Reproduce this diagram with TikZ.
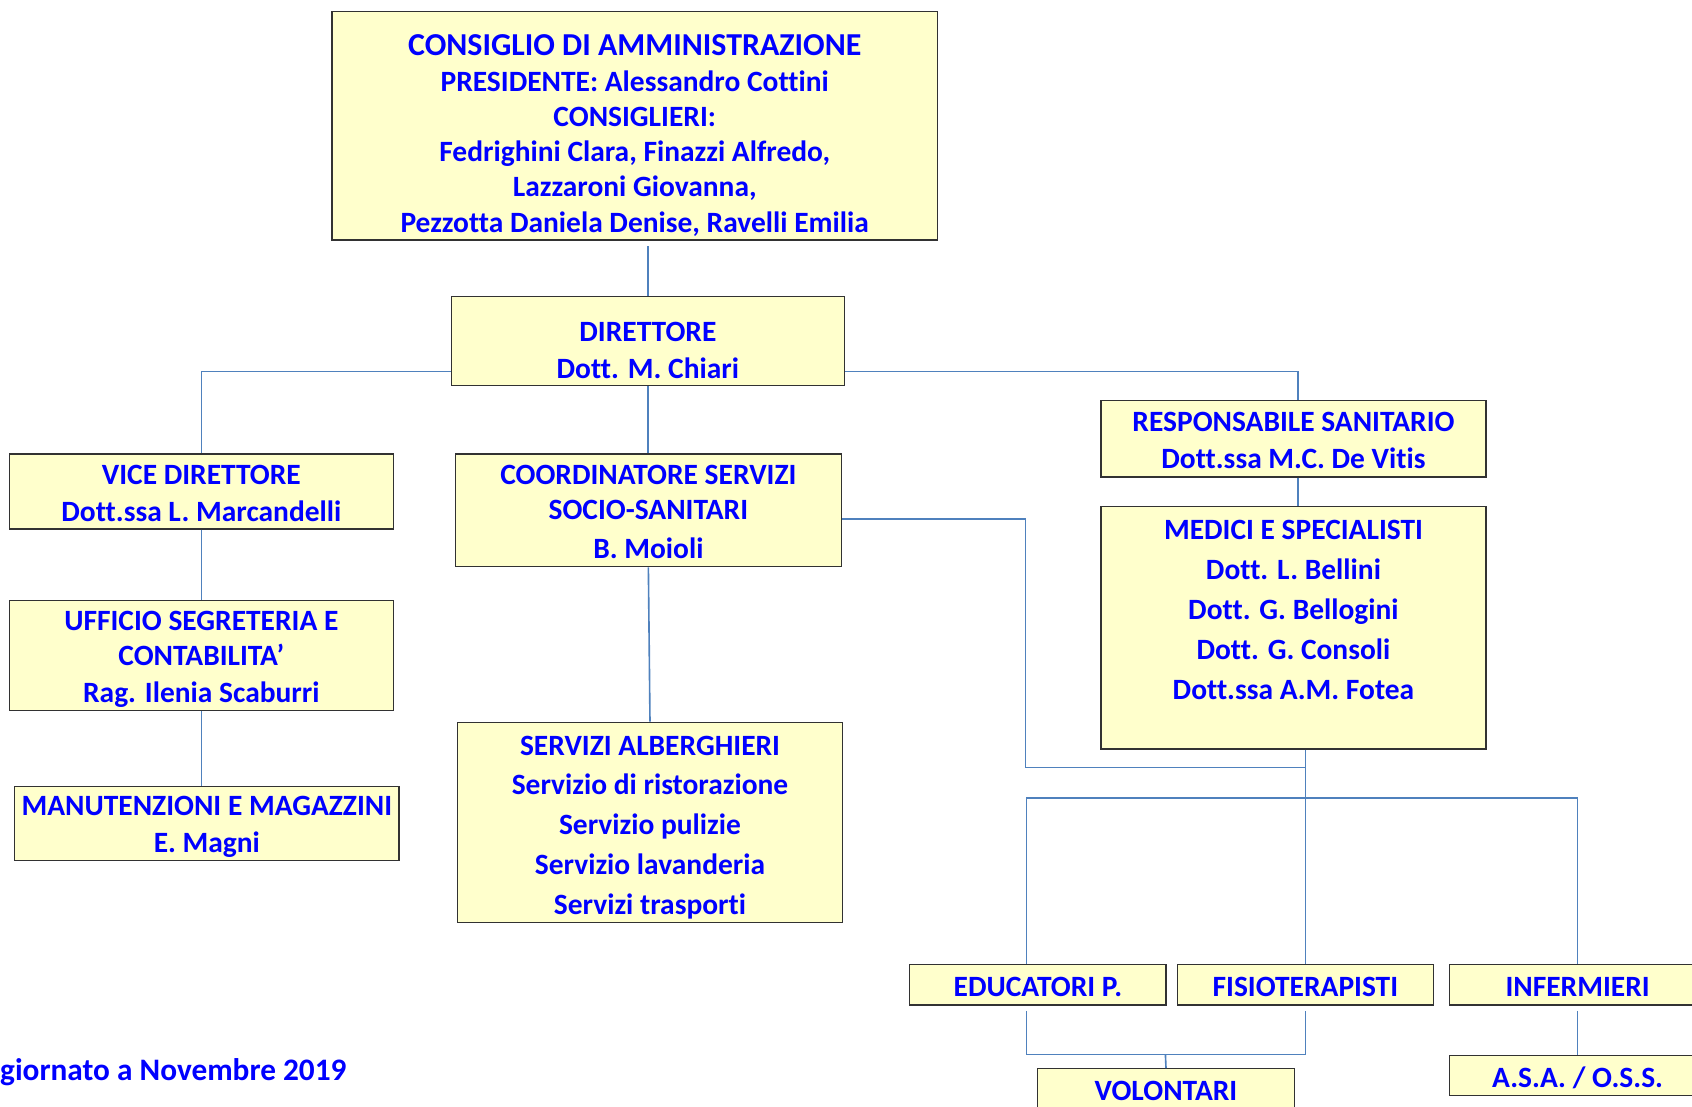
\documentclass[tikz,border=0pt]{standalone}
\usepackage{fontspec}
\setmainfont{Carlito}[Ligatures=NoCommon]
\usepackage{xcolor}
\usepackage{tikz}
\usetikzlibrary{positioning}

\definecolor{boxfill}{RGB}{255,255,204}
\definecolor{boxline}{RGB}{50,50,50}
\definecolor{linkblue}{RGB}{79,129,189}
\definecolor{textblue}{RGB}{0,0,255}

% first line height from the box top, last line depth to the box bottom
\newcommand{\padtop}[1]{\rule{0pt}{#1pt}}
\newcommand{\padbot}[1]{\rule[-#1pt]{0pt}{0pt}}

\tikzset{
  box/.style={draw=boxline, line width=1.2pt, fill=boxfill, rectangle,
    anchor=north west, inner sep=0pt, align=center, text=textblue,
    font=\fontsize{27.3pt}{32.7pt}\selectfont\bfseries},
  link/.style={draw=linkblue, line width=1.5pt}
}

\begin{document}
\begin{tikzpicture}[x=1pt, y=-1pt]
        \useasboundingbox (0,0) rectangle (1568,1025);

        \node[box, minimum width=561pt, minimum height=211.9pt] (cda) at (307.1,9.9)
          {\padtop{41.1}{\fontsize{29.6pt}{32.7pt}\selectfont CONSIGLIO DI AMMINISTRAZIONE}\\PRESIDENTE: Alessandro Cottini\\CONSIGLIERI:\\
           Fedrighini Clara, Finazzi Alfredo,\\Lazzaroni Giovanna,\\Pezzotta Daniela Denise, Ravelli Emilia\padbot{7.1}};
        \node[box, minimum width=364.4pt, minimum height=82.8pt] (dir) at (417.6,274)
          {\padtop{41.7}DIRETTORE\\[1.6pt]Dott. M. Chiari\padbot{6.8}};
        \node[box, minimum width=356pt, minimum height=69.5pt] (vice) at (8,420.2)
          {\padtop{27.8}VICE DIRETTORE\\[1.8pt]Dott.ssa L. Marcandelli\padbot{7.2}};
        \node[box, minimum width=357.7pt, minimum height=104.4pt] (coord) at (421.4,420.2)
          {\padtop{27.8}COORDINATORE SERVIZI\\[-0.3pt]SOCIO-SANITARI\\[3.4pt]B. Moioli\padbot{8.1}};
        \node[box, minimum width=356.7pt, minimum height=70.7pt] (resp) at (1019.7,370.7)
          {\padtop{28.4}RESPONSABILE SANITARIO\\[1.3pt]Dott.ssa M.C. De Vitis\padbot{8.3}};
        \node[box, minimum width=356.7pt, minimum height=224.3pt] (medici) at (1019.7,469)
          {\padtop{29.9}MEDICI E SPECIALISTI\\[4.4pt]Dott. L. Bellini\\[4.4pt]Dott. G. Bellogini\\[4.4pt]
           Dott. G. Consoli\\[4.4pt]Dott.ssa A.M. Fotea\padbot{46.1}};
        \node[box, minimum width=356pt, minimum height=102pt] (uff) at (8,556)
          {\padtop{27.9}UFFICIO SEGRETERIA E\\[-0.3pt]CONTABILITA’\\[1.3pt]Rag. Ilenia Scaburri\padbot{7.7}};
        \node[box, minimum width=356.2pt, minimum height=68.9pt] (man) at (13,728.1)
          {\padtop{27.2}MANUTENZIONI E MAGAZZINI\\[1.5pt]E. Magni\padbot{7.5}};
        \node[box, minimum width=356.5pt, minimum height=185.2pt] (alb) at (423.5,668.8)
          {\padtop{30.3}SERVIZI ALBERGHIERI\\[4.3pt]Servizio di ristorazione\\[4.3pt]Servizio pulizie\\[4.3pt]
           Servizio lavanderia\\[4.3pt]Servizi trasporti\padbot{6.9}};
        \node[box, minimum width=237.5pt, minimum height=37.7pt] (edu) at (842.5,893.1)
          {\padtop{30}EDUCATORI P.\padbot{7.7}};
        \node[box, minimum width=237.4pt, minimum height=37.7pt] (fisio) at (1090.4,893.1)
          {\padtop{30}FISIOTERAPISTI\padbot{7.7}};
        \node[box, minimum width=237.4pt, minimum height=37.7pt] (inferm) at (1342.7,893.1)
          {\padtop{30}INFERMIERI\padbot{7.7}};
        \node[box, minimum width=237.9pt, minimum height=37.7pt] (vol) at (961,989.8)
          {\padtop{29.7}VOLONTARI\padbot{8}};
        \node[box, minimum width=237.4pt, minimum height=37pt] (asa) at (1342.7,977.8)
          {\padtop{29.3}A.S.A. / O.S.S.\padbot{7.7}};

        \node[anchor=base west, inner sep=0pt, text=textblue,
          font=\fontsize{29pt}{32.7pt}\selectfont\bfseries] (stamp) at (0,1001)
          {giornato a Novembre 2019};

        \coordinate (hubL) at (950.5,711.2);
        \coordinate (hub) at (1209.1,711.2);
        \coordinate (bar) at (1209.1,739.3);
        \coordinate (volhub) at (1080,977.1);

        \draw[link, shorten <=5pt] (dir.north |- cda.south) -- (dir.north);
        \draw[link] ([yshift=13.8pt]dir.south west) -| (vice.north);
        \draw[link] ([yshift=13.8pt]dir.south east) -| ([xshift=4.4pt]resp.north);
        \draw[link] (dir.south) -- (dir.south |- coord.north);
        \draw[link] (vice.south) -- (uff.north);
        \draw[link] (uff.south) -- (uff.south |- man.north);
        \draw[link] (coord.south) -- (alb.north);
        \draw[link] ([xshift=4.4pt]resp.south) -- ([xshift=4.4pt]medici.north);
        \draw[link] ([yshift=44.6pt]coord.south east) -| (hubL) -- (hub);
        \draw[link] (medici.south -| fisio.north) -- (fisio.north);
        \draw[link] ([xshift=-10.75pt]edu.north) |- (bar) -| (inferm.north);
        \draw[link, shorten <=4.7pt, shorten >=4.7pt] ([xshift=-10.75pt]edu.south) |- (volhub) -| (fisio.south);
        \draw[link] (volhub) -- (vol.north);
        \draw[link, shorten <=4.7pt] (inferm.south) -- (asa.north);
        \end{tikzpicture}
\end{document}
